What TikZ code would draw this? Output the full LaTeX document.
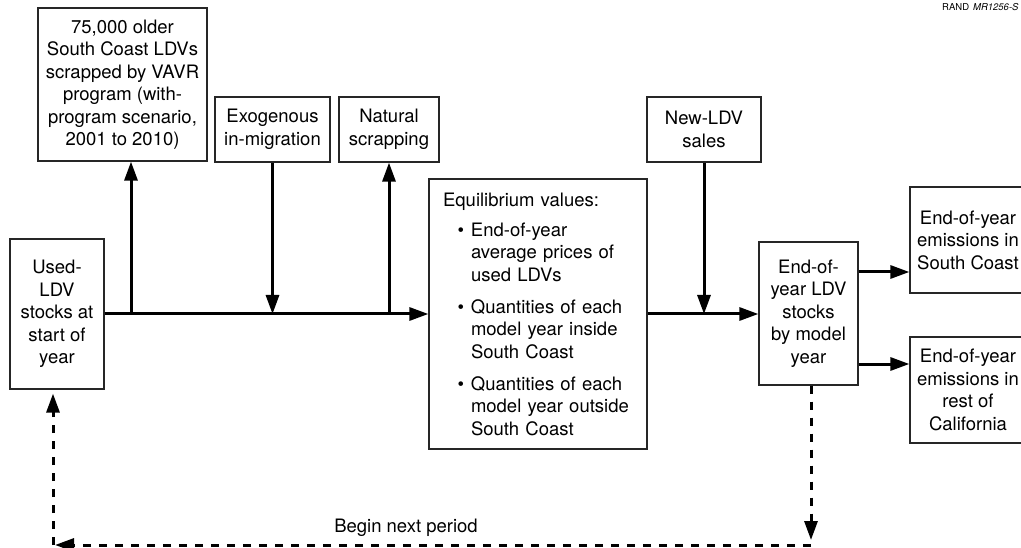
\documentclass[tikz,border=0pt]{standalone}
\usepackage{fontspec}
\setmainfont{TeX Gyre Heros}
\usetikzlibrary{arrows.meta}

\newcommand{\bul}{\hspace*{28pt}\llap{\textbullet\hspace{7pt}}}
\newcommand{\ind}{\hspace*{28pt}}

\begin{document}
\begin{tikzpicture}[x=1pt, y=-1pt,
    box/.style = {draw=black!85, line width=1.2pt, inner sep=0pt, align=center,
        font=\fontsize{18.5}{22.5}\selectfont},
    flow/.style = {line width=3pt, -{Triangle[length=19pt,width=13pt]}},
    back/.style = {flow, dash pattern=on 8pt off 8pt}]
    \useasboundingbox (0,0) rectangle (1021,548);

    \node[box, minimum width=169pt, minimum height=153pt] (vavr) at (122.5,84.5)
        {75,000 older\\South Coast LDVs\\scrapped by VAVR\\program (with-\\program scenario,\\2001 to 2010)};
    \node[box, minimum width=115pt, minimum height=65pt] (exo) at (272.5,129.5) {Exogenous\\in-migration};
    \node[box, minimum width=100pt, minimum height=65pt] (nat) at (389,129.5) {Natural\\scrapping};
    \node[box, minimum width=114pt, minimum height=65pt] (newldv) at (704,129.5) {New-LDV\\sales};
    \node[box, minimum width=94pt, minimum height=150pt] (used) at (57,314) {Used-\\LDV\\stocks at\\start of\\year};
    \node[box, minimum width=218pt, minimum height=270pt, text width=190pt, align=left] (eq) at (538,314)
        {Equilibrium values:\\[7.5pt]
         \bul End-of-year\\ \ind average prices of\\ \ind used LDVs\\[9.5pt]
         \bul Quantities of each\\ \ind model year inside\\ \ind South Coast\\[9.5pt]
         \bul Quantities of each\\ \ind model year outside\\ \ind South Coast};
    \node[box, minimum width=99pt, minimum height=143pt] (ldv) at (808.5,313.5) {End-of-\\year LDV\\stocks\\by model\\year};
    \node[box, minimum width=116pt, minimum height=106pt] (emsc) at (968,240) {End-of-year\\emissions in\\South Coast};
    \node[box, minimum width=116pt, minimum height=106pt] (emrest) at (968,390) {End-of-year\\emissions in\\rest of\\California};
    \node[font=\fontsize{18.5}{22.5}\selectfont, anchor=base] (next) at (406,532) {Begin next period};
    \node[font=\fontsize{9.5}{11}\selectfont, anchor=base west, inner sep=0pt] (tag) at (942,11)
        {RAND\hspace{4pt}\textit{MR1256-S}};

    \coordinate (j1) at (131,314);
    \coordinate (br) at (811,545);
    \coordinate (bl) at (53,545);

    \draw[flow] (used) -- (eq);
    \draw[flow] (j1) -- (j1 |- vavr.south);
    \draw[flow] (exo) -- (exo.south |- used.east);
    \draw[flow] (nat.south |- used.east) -- (nat);
    \draw[flow] (eq.east) -- (eq.east -| ldv.west);
    \draw[flow] (newldv) -- (newldv |- eq.east);
    \draw[flow] ([yshift=41.5pt]ldv.east) -- ([yshift=41.5pt]ldv.east -| emsc.west);
    \draw[flow] ([yshift=-50.5pt]ldv.east) -- ([yshift=-50.5pt]ldv.east -| emrest.west);

    \draw[back] (ldv.south -| br) -- ([yshift=5pt]br);
    \draw[back] (br) -- ([xshift=2pt]bl);
    \draw[back] (bl) -- ([yshift=-4pt]used.south -| bl);
\end{tikzpicture}
\end{document}
